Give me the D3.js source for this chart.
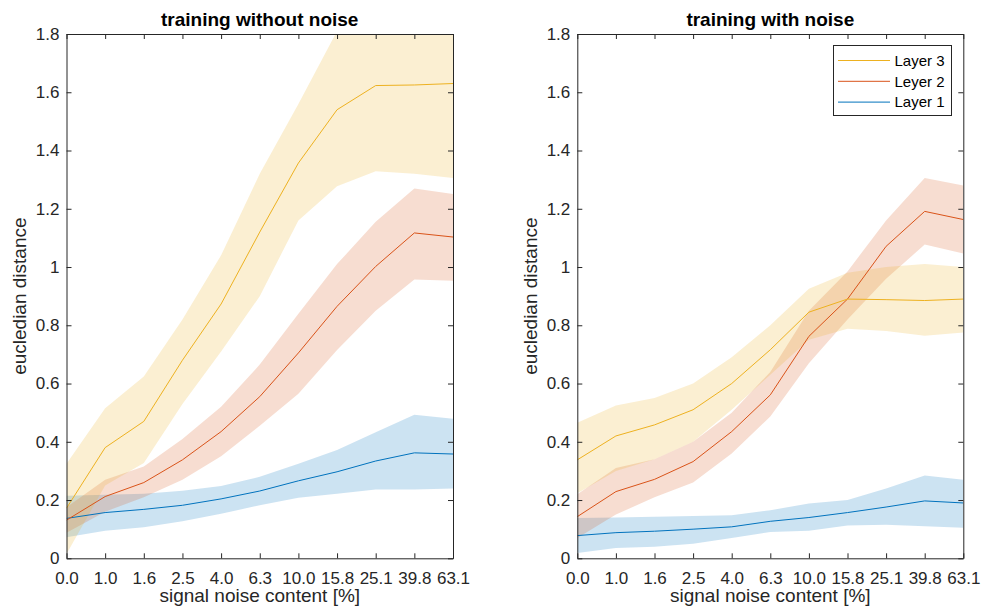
<!DOCTYPE html>
<html>
<head>
<meta charset="utf-8">
<script src="https://cdn.jsdelivr.net/npm/d3@7"></script>
<style>
  body { margin: 0; background: #fff; }
  svg { font-family: "Liberation Sans", Arial, sans-serif; }
  .tick text { fill: #262626; font-size: 17px; }
</style>
</head>
<body>
<div id="chart"></div>
<script>
// categories (signal noise content, %)
var noiseLevels = ["0.0", "1.0", "1.6", "2.5", "4.0", "6.3", "10.0", "15.8", "25.1", "39.8", "63.1"];
var yTicks = [0, 0.2, 0.4, 0.6, 0.8, 1, 1.2, 1.4, 1.6, 1.8];

// training without noise
var noNoiseL1 = [0.137, 0.157, 0.168, 0.182, 0.204, 0.231, 0.266, 0.297, 0.334, 0.362, 0.358];
var noNoiseL1Hi = [0.215, 0.218, 0.222, 0.232, 0.248, 0.28, 0.325, 0.372, 0.433, 0.493, 0.479];
var noNoiseL1Lo = [0.072, 0.095, 0.107, 0.127, 0.153, 0.182, 0.208, 0.222, 0.236, 0.236, 0.24];
var noNoiseL2 = [0.131, 0.212, 0.26, 0.338, 0.435, 0.555, 0.705, 0.865, 1.002, 1.117, 1.103];
var noNoiseL2Hi = [0.175, 0.27, 0.315, 0.41, 0.52, 0.665, 0.84, 1.01, 1.155, 1.27, 1.251];
var noNoiseL2Lo = [0.088, 0.16, 0.21, 0.27, 0.35, 0.455, 0.565, 0.715, 0.85, 0.957, 0.953];
var noNoiseL3 = [0.172, 0.38, 0.47, 0.68, 0.873, 1.12, 1.357, 1.54, 1.623, 1.625, 1.63];
var noNoiseL3Hi = [0.325, 0.515, 0.624, 0.82, 1.04, 1.32, 1.56, 1.81, 1.92, 1.93, 1.95];
var noNoiseL3Lo = [0.015, 0.25, 0.327, 0.53, 0.71, 0.9, 1.16, 1.277, 1.329, 1.32, 1.306];

// training with noise
var withNoiseL1 = [0.078, 0.088, 0.093, 0.1, 0.108, 0.127, 0.14, 0.157, 0.176, 0.197, 0.19];
var withNoiseL1Hi = [0.138, 0.14, 0.143, 0.145, 0.148, 0.165, 0.188, 0.2, 0.24, 0.284, 0.27];
var withNoiseL1Lo = [0.018, 0.035, 0.04, 0.05, 0.07, 0.09, 0.095, 0.113, 0.115, 0.11, 0.105];
var withNoiseL2 = [0.143, 0.229, 0.271, 0.332, 0.435, 0.561, 0.762, 0.89, 1.071, 1.191, 1.163];
var withNoiseL2Hi = [0.22, 0.31, 0.34, 0.4, 0.5, 0.64, 0.85, 0.985, 1.16, 1.306, 1.28];
var withNoiseL2Lo = [0.07, 0.15, 0.21, 0.26, 0.36, 0.487, 0.67, 0.82, 0.96, 1.077, 1.046];
var withNoiseL3 = [0.338, 0.42, 0.458, 0.51, 0.6, 0.716, 0.845, 0.89, 0.888, 0.885, 0.89];
var withNoiseL3Hi = [0.465, 0.525, 0.55, 0.6, 0.69, 0.8, 0.925, 0.98, 1.0, 1.01, 1.0];
var withNoiseL3Lo = [0.223, 0.3, 0.34, 0.4, 0.51, 0.63, 0.75, 0.788, 0.78, 0.764, 0.775];

var layerNames = ["Layer 3", "Leyer 2", "Layer 1"];
var layerColors = ["#EDB120", "#D95319", "#0072BD"];

var svgW = 982, svgH = 615;
var svg = d3.select("#chart").append("svg")
	.attr("width", svgW)
	.attr("height", svgH);

var plotTop = 34, plotBottom = 558.3;

function drawPanel(id, left, right, title, layers, showLegend) {
	var g = svg.append("g");

	var x = d3.scalePoint().domain(noiseLevels).range([left, right]);
	var y = d3.scaleLinear().domain([0, 1.8]).range([plotBottom, plotTop]);

	g.append("clipPath").attr("id", id)
		.append("rect")
		.attr("x", left).attr("y", plotTop)
		.attr("width", right - left).attr("height", plotBottom - plotTop);

	var area = d3.area()
		.x(function(d, i) { return x(noiseLevels[i]); })
		.y0(function(d) { return y(d.lo); })
		.y1(function(d) { return y(d.hi); });
	var line = d3.line()
		.x(function(d, i) { return x(noiseLevels[i]); })
		.y(function(d) { return y(d.mean); });

	var plot = g.append("g").attr("clip-path", "url(#" + id + ")");

	// shaded bands (layer 1 first, layer 3 last)
	layers.slice().reverse().forEach(function(L) {
		var pts = L.mean.map(function(m, i) { return { mean: m, lo: L.lo[i], hi: L.hi[i] }; });
		plot.append("path")
			.attr("d", area(pts))
			.attr("fill", L.color)
			.attr("fill-opacity", 0.2)
			.attr("stroke", "none");
	});
	layers.slice().reverse().forEach(function(L) {
		var pts = L.mean.map(function(m) { return { mean: m }; });
		plot.append("path")
			.attr("d", line(pts))
			.attr("fill", "none")
			.attr("stroke", L.color)
			.attr("stroke-width", 1);
	});

	// axes, MATLAB style: ticks inside, box on
	var axisColor = "#262626";
	var xb = g.append("g").attr("transform", "translate(0," + plotBottom + ")")
		.call(d3.axisBottom(x).tickSizeInner(-5).tickSizeOuter(0).tickPadding(13.5));
	var xt = g.append("g").attr("transform", "translate(0," + plotTop + ")")
		.call(d3.axisTop(x).tickSizeInner(-5).tickSizeOuter(0).tickFormat(""));
	var yl = g.append("g").attr("transform", "translate(" + left + ",0)")
		.call(d3.axisLeft(y).tickValues(yTicks).tickSizeInner(-5).tickSizeOuter(0).tickPadding(7)
			.tickFormat(function(d) { return d3.format("")(Math.round(d * 10) / 10); }));
	var yr = g.append("g").attr("transform", "translate(" + right + ",0)")
		.call(d3.axisRight(y).tickValues(yTicks).tickSizeInner(-5).tickSizeOuter(0).tickFormat(""));
	[xb, xt, yl, yr].forEach(function(a) {
		a.select(".domain").attr("stroke", axisColor).attr("stroke-width", 1);
		a.selectAll(".tick line").attr("stroke", axisColor);
	});

	// title and labels
	g.append("text")
		.attr("x", (left + right) / 2).attr("y", 26)
		.attr("text-anchor", "middle")
		.attr("font-weight", "bold")
		.attr("font-size", 19)
		.attr("fill", "#000")
		.text(title);
	g.append("text")
		.attr("x", (left + right) / 2).attr("y", 602)
		.attr("text-anchor", "middle")
		.attr("font-size", 19)
		.attr("fill", "#262626")
		.text("signal noise content [%]");
	g.append("text")
		.attr("transform", "translate(" + (left - 40.5) + "," + ((plotTop + plotBottom) / 2) + ") rotate(-90)")
		.attr("text-anchor", "middle")
		.attr("font-size", 19)
		.attr("fill", "#262626")
		.text("eucledian distance");

	if (showLegend) {
		var lg = g.append("g");
		lg.append("rect")
			.attr("x", 833.5).attr("y", 45.5)
			.attr("width", 118).attr("height", 70)
			.attr("fill", "#fff")
			.attr("stroke", "#262626")
			.attr("stroke-width", 1);
		layers.forEach(function(L, i) {
			var ly = 60.5 + i * 20.8;
			lg.append("line")
				.attr("x1", 838).attr("x2", 890)
				.attr("y1", ly).attr("y2", ly)
				.attr("stroke", L.color).attr("stroke-width", 1);
			lg.append("text")
				.attr("x", 894.5).attr("y", ly)
				.attr("dy", "0.35em")
				.attr("font-size", 15)
				.attr("fill", "#000")
				.text(L.name);
		});
	}
}

function makeLayers(m3, h3, l3, m2, h2, l2, m1, h1, l1) {
	return [
		{ name: layerNames[0], color: layerColors[0], mean: m3, hi: h3, lo: l3 },
		{ name: layerNames[1], color: layerColors[1], mean: m2, hi: h2, lo: l2 },
		{ name: layerNames[2], color: layerColors[2], mean: m1, hi: h1, lo: l1 }
	];
}

drawPanel("clip-left", 66.5, 453, "training without noise",
	makeLayers(noNoiseL3, noNoiseL3Hi, noNoiseL3Lo, noNoiseL2, noNoiseL2Hi, noNoiseL2Lo, noNoiseL1, noNoiseL1Hi, noNoiseL1Lo), false);
drawPanel("clip-right", 577.3, 963.3, "training with noise",
	makeLayers(withNoiseL3, withNoiseL3Hi, withNoiseL3Lo, withNoiseL2, withNoiseL2Hi, withNoiseL2Lo, withNoiseL1, withNoiseL1Hi, withNoiseL1Lo), true);
</script>
</body>
</html>
